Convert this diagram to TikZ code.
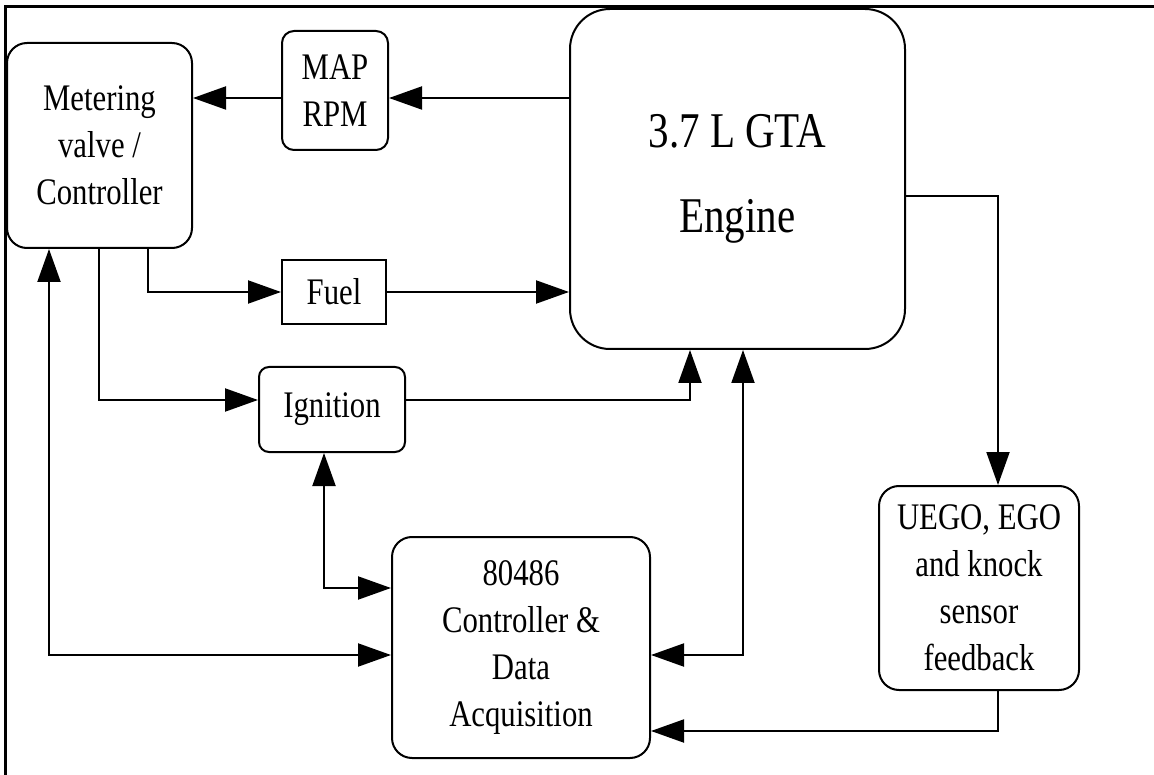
\documentclass[tikz,border=0pt]{standalone}
\usepackage{fontspec}
\setmainfont{Liberation Serif}[FakeStretch=0.82]
\usetikzlibrary{arrows.meta}
\tikzset{
  box/.style={draw, line width=2pt, rectangle, anchor=center, align=center, inner sep=0pt,
    font=\fontsize{37.5}{47}\selectfont},
  conn/.style={line width=2pt, -{Triangle[length=33pt,width=23pt]}},
  bconn/.style={line width=2pt, {Triangle[length=33pt,width=23pt]}-{Triangle[length=33pt,width=23pt]}},
}
\begin{document}
\begin{tikzpicture}[x=1pt,y=-1pt]
\useasboundingbox (0,0) rectangle (1154,775);
\draw[line width=3pt] (5,775) -- (5,7) -- (1154,7);

\node[box, rounded corners=20pt, minimum width=185pt, minimum height=205pt] (meter) at (99.5,145.5) {Metering\\valve /\\Controller};
\node[box, rounded corners=12pt, minimum width=106pt, minimum height=119pt] (map) at (335,90.5) {MAP\\RPM};
\node[box, rounded corners=40pt, minimum width=335pt, minimum height=340pt,
  font=\fontsize{50}{60}\selectfont] (engine) at (737.5,179) {3.7 L GTA\\[25pt]Engine};
\node[box, minimum width=104pt, minimum height=64pt] (fuel) at (334,292) {Fuel};
\node[box, rounded corners=10pt, minimum width=146pt, minimum height=85pt] (ign) at (332,409.5) {Ignition};
\node[box, rounded corners=20pt, minimum width=258pt, minimum height=221pt] (cpu) at (521,647.5) {80486\\Controller \&\\Data\\Acquisition};
\node[box, rounded corners=20pt, minimum width=200pt, minimum height=204pt] (uego) at (979,588) {UEGO, EGO\\and knock\\sensor\\feedback};

\draw[conn] (engine.west |- 0,98) -- (map.east |- 0,98);
\draw[conn] (map.west |- 0,98) -- (meter.east |- 0,98);
\draw[conn] (meter.south -| 148,0) |- (fuel.west);
\draw[conn] (fuel.east) -- (engine.west |- fuel.east);
\draw[conn] (meter.south -| 99,0) |- (ign.west |- 0,400);
\draw[conn] (ign.east |- 0,400) -| ([xshift=-47.5pt]engine.south);
\draw[bconn] (cpu.east |- 0,655) -| ([xshift=5.5pt]engine.south);
\draw[bconn] (ign.south -| 324,0) |- (cpu.west |- 0,588);
\draw[bconn] (meter.south -| 49,0) |- (cpu.west |- 0,655);
\draw[conn] (engine.east |- 0,196) -| ([xshift=19pt]uego.north);
\draw[conn] ([xshift=19pt]uego.south) |- (cpu.east |- 0,731);
\end{tikzpicture}
\end{document}
